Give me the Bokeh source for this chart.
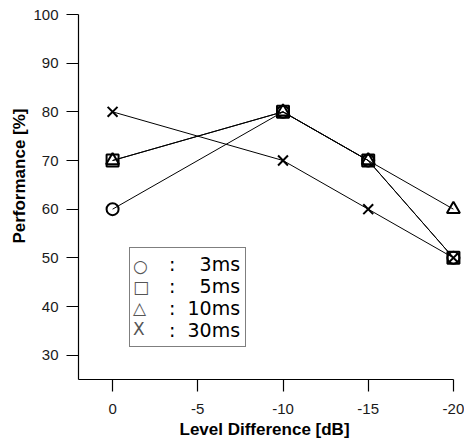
from bokeh.plotting import figure
from bokeh.models import Range1d, FixedTicker, Legend, LegendItem, ColumnDataSource, Title
from bokeh.embed import file_html
from bokeh.resources import INLINE

# Data
level_db = [0, -10, -15, -20]
perf_3ms = [60, 80, 70, 50]
perf_5ms = [70, 80, 70, 50]
perf_10ms = [70, 80, 70, 60]
perf_30ms = [80, 70, 60, 50]
x_ticks = [0, -5, -10, -15, -20]
y_ticks = [30, 40, 50, 60, 70, 80, 90, 100]
legend_keys = ["\u25cb", "\u25a1", "\u25b3", "X"]
legend_labels = [":\u00a0\u00a0\u20073ms", ":\u00a0\u00a0\u20075ms", ":\u00a0\u00a010ms", ":\u00a0\u00a030ms"]
x_label = "Level Difference [dB]"
y_label = "Performance [%]"

p = figure(width=464, height=444, x_range=Range1d(2, -20.65), y_range=Range1d(25, 100),
           output_backend="svg", toolbar_location=None,
           min_border_left=78, min_border_right=0, min_border_top=14, min_border_bottom=65)
p.outline_line_color = None
p.xgrid.visible = False
p.ygrid.visible = False
p.background_fill_color = "white"

for ax in (p.xaxis[0], p.yaxis[0]):
    ax.major_tick_out = 12
    ax.major_tick_in = 0
    ax.minor_tick_out = 0
    ax.minor_tick_in = 0
    ax.axis_line_color = "black"
    ax.axis_line_width = 1.2
    ax.major_tick_line_color = "black"
    ax.major_tick_line_width = 1.2
    ax.major_label_text_font = "Liberation Sans"
    ax.major_label_text_font_size = "15px"
    ax.major_label_text_color = "#1a1a1a"
    ax.major_label_standoff = 8
p.xaxis.major_label_standoff = 12

p.xaxis.ticker = FixedTicker(ticks=x_ticks)
p.yaxis.ticker = FixedTicker(ticks=y_ticks)
p.xaxis.major_label_overrides = {t: str(t) for t in x_ticks}
p.xaxis.bounds = (-20, 2)

# axis titles (placed as side titles so they can be offset like the original)
xt = Title(text=x_label, align="left", offset=101, text_font="Liberation Sans",
           text_font_style="bold", text_font_size="17px", text_color="black", standoff=2)
p.add_layout(xt, "below")
yt = Title(text=y_label, align="right", offset=94, text_font="Liberation Sans",
           text_font_style="bold", text_font_size="17px", text_color="black", standoff=4)
p.add_layout(yt, "left")

series = [perf_3ms, perf_5ms, perf_10ms, perf_30ms]
markers = ["circle", "square", "triangle", "x"]
sizes = [12, 12, 13, 14]

for ys in series:
    p.line(level_db, ys, line_color="black", line_width=1)
for ys, m, s in zip(series, markers, sizes):
    p.scatter(level_db, ys, marker=m, size=s, fill_color=None, line_color="black", line_width=2)

nan = float("nan")
hidden = []
for m in markers:
    hidden.append(p.scatter(x="x", y="y", source=ColumnDataSource(dict(x=[nan], y=[nan])), marker=m,
                            size=1, fill_alpha=0, line_alpha=0))

common = dict(padding=5, spacing=0, glyph_height=21, label_height=21, margin=0)
legend_text = Legend(items=[LegendItem(label=l, renderers=[r], index=0) for l, r in zip(legend_labels, hidden)],
                     location=(51, 32), glyph_width=20, label_standoff=14,
                     label_text_font="DejaVu Sans", label_text_font_size="19px",
                     label_text_color="black", border_line_color="black", border_line_width=1,
                     background_fill_color="white", background_fill_alpha=1, **common)
p.add_layout(legend_text, "center")
legend_keys_box = Legend(items=[LegendItem(label=k, renderers=[r], index=0) for k, r in zip(legend_keys, hidden)],
                         location=(55, 40), glyph_width=0, label_standoff=0,
                         label_text_font="DejaVu Sans", label_text_font_size="17px",
                         label_text_color="#555555", border_line_color=None,
                         background_fill_alpha=0, **common)
p.add_layout(legend_keys_box, "center")

open("out.html", "w").write(file_html(p, INLINE))
